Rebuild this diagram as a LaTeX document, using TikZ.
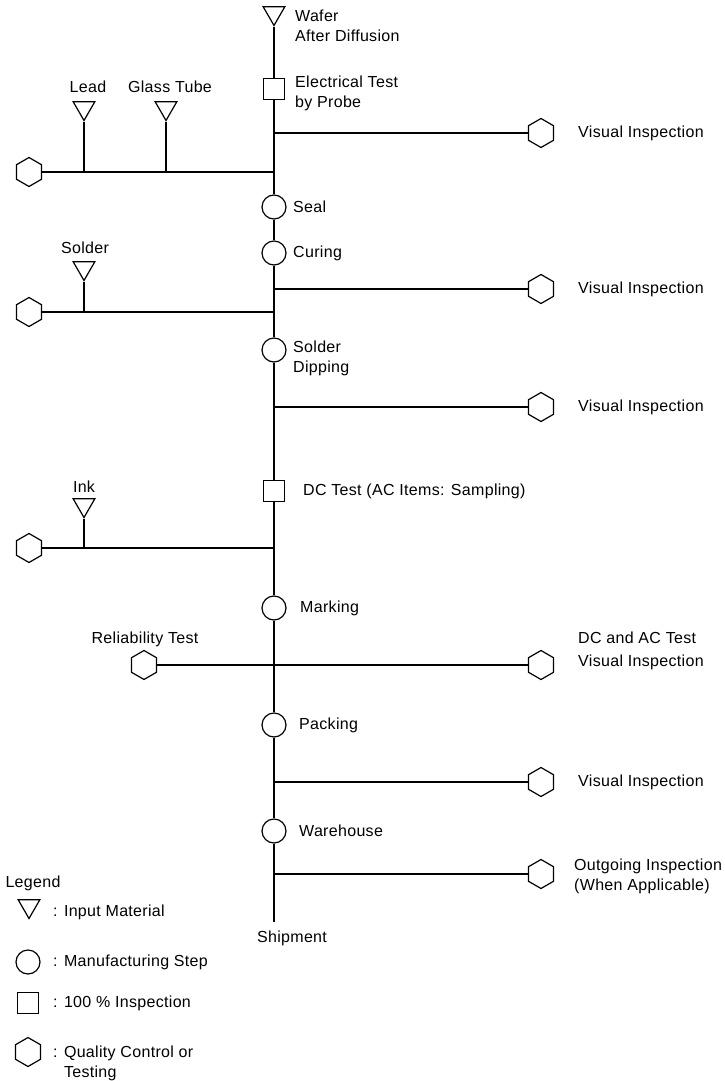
\documentclass[tikz,border=0pt]{standalone}
\usepackage{fontspec}
\setmainfont[LetterSpace=2]{Liberation Sans}
\usetikzlibrary{shapes.geometric}
\begin{document}
\begin{tikzpicture}[x=1pt,y=-1pt,
  every node/.style={font=\fontsize{16}{20}\selectfont},
  flow/.style={line width=1.4pt},
  branch/.style={line width=1.1pt},
  material/.style={draw, line width=1.2pt, regular polygon, regular polygon sides=3,
    shape border rotate=180, minimum size=25pt, inner sep=0pt},
  stepnode/.style={draw, line width=1.2pt, circle, minimum size=24pt, inner sep=0pt},
  inspect/.style={draw, line width=1.2pt, rectangle, minimum size=21pt, inner sep=0pt},
  qcnode/.style={draw, line width=1.2pt, regular polygon, regular polygon sides=6,
    shape border rotate=30, minimum size=29pt, inner sep=0pt},
  lbl/.style={anchor=west, inner sep=0pt, align=left},
  clbl/.style={inner sep=0pt, align=center}
]
\fill[white] (0,0) rectangle (724,1081);
\useasboundingbox (0,0) rectangle (724,1081);

% main process chain
\node[material] (wafer) at (274,13) {};
\node[lbl] (waferlbl) at (295,26) {Wafer\\After Diffusion};
\node[inspect] (etest) at (274,89) {};
\node[lbl] (etestlbl) at (295,93.5) {Electrical Test\\by Probe};
\node[stepnode] (seal) at (274,207) {};
\node[lbl] (seallbl) at (293,207) {Seal};
\node[stepnode] (curing) at (274,253) {};
\node[lbl] (curinglbl) at (293,253) {Curing};
\node[stepnode] (dipping) at (274,350) {};
\node[lbl] (dippinglbl) at (293,358) {Solder\\Dipping};
\node[inspect] (dctest) at (274,491) {};
\node[lbl] (dctestlbl) at (303,491) {DC Test (AC Items: Sampling)};
\node[stepnode] (marking) at (274,608) {};
\node[lbl] (markinglbl) at (300,608) {Marking};
\node[stepnode] (packing) at (274,725) {};
\node[lbl] (packinglbl) at (299,725) {Packing};
\node[stepnode] (warehouse) at (274,831) {};
\node[lbl] (warehouselbl) at (299,831) {Warehouse};
\coordinate (shipend) at (274,922);
\node[clbl] (shiplbl) at (292,938) {Shipment};

\draw[flow] (wafer) -- (etest) -- (seal) -- (curing) -- (dipping) -- (dctest)
  -- (marking) -- (packing) -- (warehouse) -- (shipend);

% junctions on the main line
\coordinate (j1) at (274,133);
\coordinate (j2) at (274,172);
\coordinate (j3) at (274,289);
\coordinate (j4) at (274,312);
\coordinate (j5) at (274,407);
\coordinate (j6) at (274,548);
\coordinate (j7) at (274,782);
\coordinate (j8) at (274,874);

% inspections on the right
\node[qcnode] (qc1) at (541,133) {};
\node[lbl] (qc1lbl) at (578,133) {Visual Inspection};
\node[qcnode] (qc2) at (541,289) {};
\node[lbl] (qc2lbl) at (578,289) {Visual Inspection};
\node[qcnode] (qc3) at (541,407) {};
\node[lbl] (qc3lbl) at (578,407) {Visual Inspection};
\node[qcnode] (qc5) at (541,782) {};
\node[lbl] (qc5lbl) at (578,782) {Visual Inspection};
\node[qcnode] (qc6) at (541,874) {};
\node[lbl] (qc6lbl) at (574,876) {Outgoing Inspection\\(When Applicable)};
\draw[branch] (j1) -- (qc1);
\draw[branch] (j3) -- (qc2);
\draw[branch] (j5) -- (qc3);
\draw[branch] (j7) -- (qc5);
\draw[branch] (j8) -- (qc6);

% materials fed from the left
\node[qcnode] (qcl1) at (29,172) {};
\node[material] (lead) at (84,108) {};
\node[clbl] (leadlbl) at (88,87) {Lead};
\node[material] (glass) at (166,108) {};
\node[clbl] (glasslbl) at (170,87) {Glass Tube};
\draw[branch] (qcl1) -- (j2);
\draw[branch] (lead) -- (lead |- j2);
\draw[branch] (glass) -- (glass |- j2);

\node[qcnode] (qcl2) at (29,312) {};
\node[material] (solder) at (84,268) {};
\node[clbl] (solderlbl) at (85,248) {Solder};
\draw[branch] (qcl2) -- (j4);
\draw[branch] (solder) -- (solder |- j4);

\node[qcnode] (qcl3) at (29,548) {};
\node[material] (ink) at (84,505) {};
\node[clbl] (inklbl) at (84,487) {Ink};
\draw[branch] (qcl3) -- (j6);
\draw[branch] (ink) -- (ink |- j6);

% reliability and electrical tests across the line
\node[qcnode] (rel) at (144,665) {};
\node[clbl] (rellbl) at (145,639) {Reliability Test};
\node[qcnode] (dcac) at (541,665) {};
\node[lbl] (dcaclbl) at (578,638) {DC and AC Test};
\node[lbl] (dcacvis) at (578,662) {Visual Inspection};
\draw[branch] (rel) -- (dcac);

% legend
\node[clbl] (legend) at (33,883) {Legend};
\node[material] (legtri) at (29,906) {};
\node[lbl] (legtrilbl) at (53,912) {: Input Material};
\node[stepnode] (legcirc) at (28,962) {};
\node[lbl] (legcirclbl) at (53,962) {: Manufacturing Step};
\node[inspect] (legsq) at (28,1003) {};
\node[lbl] (legsqlbl) at (53,1003) {: 100 \% Inspection};
\node[qcnode] (leghex) at (28,1052) {};
\node[lbl] (leghexlbl) at (53,1063) {: Quality Control or\\\phantom{: }Testing};
\end{tikzpicture}
\end{document}
